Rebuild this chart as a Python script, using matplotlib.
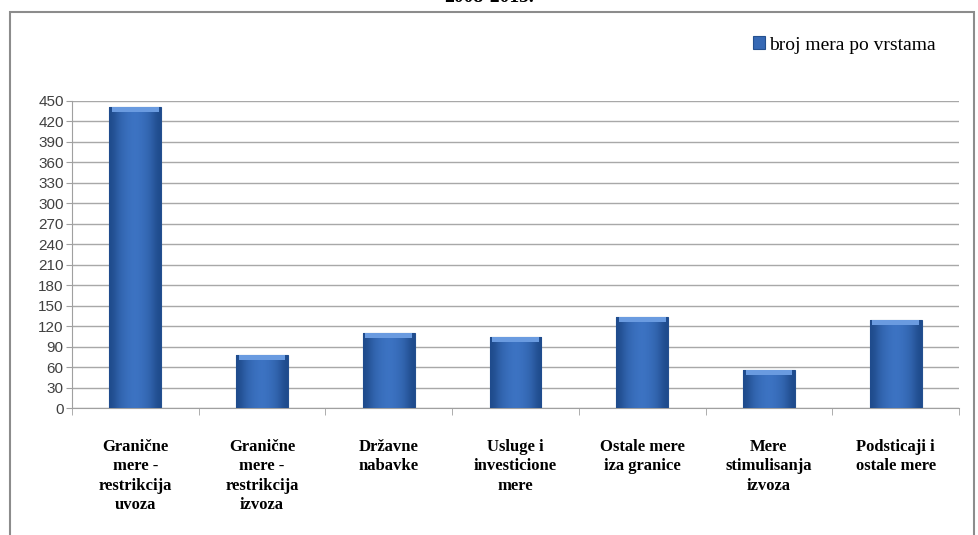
import numpy as np
import matplotlib.pyplot as plt
from matplotlib.patches import Rectangle
from matplotlib.colors import LinearSegmentedColormap

categories = ["Granične\nmere -\nrestrikcija\nuvoza", "Granične\nmere -\nrestrikcija\nizvoza",
              "Državne\nnabavke", "Usluge i\ninvesticione\nmere", "Ostale mere\niza granice",
              "Mere\nstimulisanja\nizvoza", "Podsticaji i\nostale mere"]
values = [441, 77, 110, 104, 133, 55, 129]
yticks = list(range(0, 451, 30))
series_name = "broj mera po vrstama"

fig = plt.figure(figsize=(9.79, 5.35), dpi=100)
# outer chart frame
fig.patches.append(Rectangle((10 / 979, -0.05), 964 / 979, 1.05 - 12 / 535, transform=fig.transFigure,
                             fill=False, edgecolor="#8c8c8c", linewidth=1.5))
fig.text(0.5, 1.0 + 2 / 535, "2008-2015.", ha="center", va="center", fontsize=14,
         fontweight="bold", family="Liberation Serif")

ax = fig.add_axes([72 / 979, 1 - 408 / 535, 887 / 979, 307 / 535])
x = np.arange(len(categories))
width = 0.41
bars = ax.bar(x, values, width, color="#3669b5", edgecolor="#24508f", linewidth=0.8, zorder=2,
              label=series_name)

# smooth horizontal gradient for the bevelled look
grad = np.array([[0.0, 0.45, 0.75, 0.9, 1.0, 0.9, 0.75, 0.45, 0.0]])
cmap = LinearSegmentedColormap.from_list("b", ["#1f4b8c", "#3d74c4"])
for b in bars:
    im = ax.imshow(grad, cmap=cmap, aspect="auto", zorder=3, interpolation="bicubic",
                   extent=(b.get_x(), b.get_x() + b.get_width(), 0, b.get_height()))
    im.set_clip_path(b)
    cap = min(7, b.get_height() * 0.12)
    ax.bar(b.get_x() + b.get_width() / 2, cap, b.get_width() * 0.9,
           bottom=b.get_height() - cap, color="#6a9be0", zorder=4, linewidth=0)

ax.set_xlim(-0.5, len(categories) - 0.5)
ax.set_ylim(0, 450)
ax.set_yticks(yticks)
ax.set_yticklabels([str(t) for t in yticks], fontsize=11, family="Liberation Sans", color="#404040")
ax.yaxis.grid(True, color="#a8a8a8", linewidth=1.0, zorder=0)
ax.set_axisbelow(True)
ax.tick_params(axis="y", length=4, color="#a0a0a0", pad=2)

ax.set_xticks(x)
ax.set_xticklabels(categories, fontsize=12, fontweight="bold", family="Liberation Serif",
                   linespacing=1.3, va="top")
ax.tick_params(axis="x", length=0, pad=22)
ax.set_xticks(np.arange(-0.5, len(categories)), minor=True)
ax.tick_params(axis="x", which="minor", length=5, color="#a0a0a0")

for s in ["top", "right"]:
    ax.spines[s].set_visible(False)
for s in ["left", "bottom"]:
    ax.spines[s].set_color("#a0a0a0")

leg = ax.legend(handles=[bars], loc="center right", bbox_to_anchor=(945 / 979, 1 - 45 / 535),
                bbox_transform=fig.transFigure, frameon=False, handlelength=0.6, handleheight=0.6,
                handletextpad=0.2, borderpad=0, prop={"family": "Liberation Serif", "size": 14})

fig.savefig("out.png", dpi=100)
